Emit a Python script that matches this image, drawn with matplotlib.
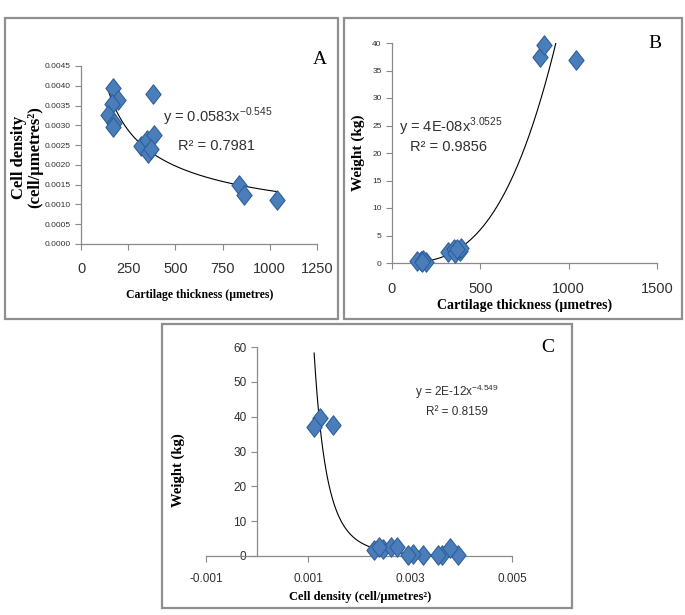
import numpy as np
import matplotlib
matplotlib.use("Agg")
import matplotlib.pyplot as plt
from matplotlib.patches import Rectangle
from matplotlib.path import Path
from matplotlib.ticker import FormatStrFormatter, MultipleLocator

# measured values per sample
thickness = [172, 194, 164, 141, 176, 172, 384, 319, 349, 357, 389, 370, 836, 861, 1040]
density = [0.00395, 0.00363, 0.00355, 0.00326, 0.00306, 0.00296, 0.00379, 0.00248,
           0.00262, 0.00229, 0.00275, 0.00240, 0.00149, 0.00124, 0.00112]
weight = [0.3, 0.2, 0.4, 0.3, 0.5, 0.2, 2.2, 2.0, 2.6, 1.8, 2.7, 2.5, 37.5, 39.6, 37.0]

# power trendlines y = a * x^b
fit_a = (0.0583, -0.545)
fit_b = (3.5e-08, 3.0525)
fit_c = (2.2e-12, -4.549)

W, H = 685, 615
fig = plt.figure(figsize=(W / 100, H / 100), dpi=100)

def px(x, y):
    return x / W, 1 - y / H

def box(x0, y0, x1, y1):
    fig.patches.append(Rectangle(px(x0, y1), (x1 - x0) / W, (y1 - y0) / H, transform=fig.transFigure,
                                 fill=False, edgecolor="#8f8f8f", lw=1.6))

def axes(x0, y0, x1, y1):
    return fig.add_axes([x0 / W, 1 - y1 / H, (x1 - x0) / W, (y1 - y0) / H])

diamond = Path([(0, 1), (0.78, 0), (0, -1), (-0.78, 0), (0, 1)],
               [Path.MOVETO, Path.LINETO, Path.LINETO, Path.LINETO, Path.CLOSEPOLY])

SANS = "Liberation Sans"
SERIF = "Liberation Serif"
TXT = "#303030"

def style(ax, xsize, ysize, xpad):
    for s in ["top", "right"]:
        ax.spines[s].set_visible(False)
    for s in ["left", "bottom"]:
        ax.spines[s].set_color("#8a8a8a")
        ax.spines[s].set_linewidth(0.9)
    ax.tick_params(direction="out", length=4, width=0.8, color="#8a8a8a", labelcolor=TXT)
    ax.tick_params(axis="x", pad=xpad)
    for lab in ax.get_xticklabels():
        lab.set_family(SANS); lab.set_fontsize(xsize)
    for lab in ax.get_yticklabels():
        lab.set_family(SANS); lab.set_fontsize(ysize)

def scatter(ax, x, y):
    ax.plot(x, y, linestyle="none", marker=diamond, ms=14, mfc="#4a7ebb", mec="#2f5f98",
            mew=0.8, zorder=3, clip_on=False)

# ---- panel A
box(5, 18, 338, 319)
ax = axes(81, 66, 317, 244)
scatter(ax, thickness, density)
xs = np.linspace(min(thickness), max(thickness), 200)
ax.plot(xs, fit_a[0] * xs ** fit_a[1], color="black", lw=0.8, zorder=2)
ax.set_xlim(0, 1250)
ax.set_ylim(0, 0.0045)
ax.xaxis.set_major_locator(MultipleLocator(250))
ax.yaxis.set_major_locator(MultipleLocator(0.0005))
ax.yaxis.set_major_formatter(FormatStrFormatter("%.4f"))
style(ax, 10.5, 6, 9)
ax.text(0.578, 0.713, r"y = 0.0583x$^{\mathregular{-0.545}}$", transform=ax.transAxes,
        ha="center", va="center", family=SANS, fontsize=10.5, color=TXT)
ax.text(0.576, 0.55, "R² = 0.7981", transform=ax.transAxes, ha="center", va="center",
        family=SANS, fontsize=10.5, color=TXT)
fig.text(*px(200, 295), "Cartilage thickness (µmetres)", ha="center", va="center",
         family=SERIF, weight="bold", fontsize=8.5)
fig.text(*px(27, 157), "Cell density\n(cell/µmetres²)", ha="center", va="center", rotation=90,
         family=SERIF, weight="bold", fontsize=12, linespacing=1.0)
fig.text(*px(320, 60), "A", ha="center", va="center", family=SERIF, fontsize=14)

# ---- panel B
box(344, 18, 682, 319)
ax = axes(392, 43, 657, 263)
scatter(ax, thickness, weight)
ax.plot(xs, fit_b[0] * xs ** fit_b[1], color="black", lw=0.8, zorder=2)
ax.set_xlim(0, 1500)
ax.set_ylim(0, 40)
ax.xaxis.set_major_locator(MultipleLocator(500))
ax.yaxis.set_major_locator(MultipleLocator(5))
style(ax, 10.5, 6, 9.5)
ax.text(0.22, 0.618, r"y = 4E-08x$^{\mathregular{3.0525}}$", transform=ax.transAxes,
        ha="center", va="center", family=SANS, fontsize=10.5, color=TXT)
ax.text(0.212, 0.527, "R² = 0.9856", transform=ax.transAxes, ha="center", va="center",
        family=SANS, fontsize=10.5, color=TXT)
fig.text(*px(525, 305), "Cartilage thickness (µmetres)", ha="center", va="center",
         family=SERIF, weight="bold", fontsize=10)
fig.text(*px(358, 153), "Weight (kg)", ha="center", va="center", rotation=90,
         family=SERIF, weight="bold", fontsize=11)
fig.text(*px(655, 43), "B", ha="center", va="center", family=SERIF, fontsize=14)

# ---- panel C
box(162, 324, 572, 608)
ax = axes(206, 347, 512, 556)
scatter(ax, density, weight)
ds = np.linspace(min(density), max(density), 300)
ax.plot(ds, fit_c[0] * ds ** fit_c[1], color="black", lw=0.8, zorder=2)
ax.set_xlim(-0.001, 0.005)
ax.set_ylim(0, 60)
ax.spines["left"].set_position(("data", 0))
ax.set_xticks([-0.001, 0.001, 0.003, 0.005])
ax.xaxis.set_major_formatter(FormatStrFormatter("%.3f"))
ax.yaxis.set_major_locator(MultipleLocator(10))
style(ax, 8.5, 8.5, 8)
ax.text(0.82, 0.785, r"y = 2E-12x$^{\mathregular{-4.549}}$", transform=ax.transAxes,
        ha="center", va="center", family=SANS, fontsize=8.5, color=TXT)
ax.text(0.82, 0.689, "R² = 0.8159", transform=ax.transAxes, ha="center", va="center",
        family=SANS, fontsize=8.5, color=TXT)
fig.text(*px(360, 597), "Cell density (cell/µmetres²)", ha="center", va="center",
         family=SERIF, weight="bold", fontsize=9)
fig.text(*px(178, 470), "Weight (kg)", ha="center", va="center", rotation=90,
         family=SERIF, weight="bold", fontsize=10.5)
fig.text(*px(548, 348), "C", ha="center", va="center", family=SERIF, fontsize=14)

fig.savefig("out.png", dpi=100)
